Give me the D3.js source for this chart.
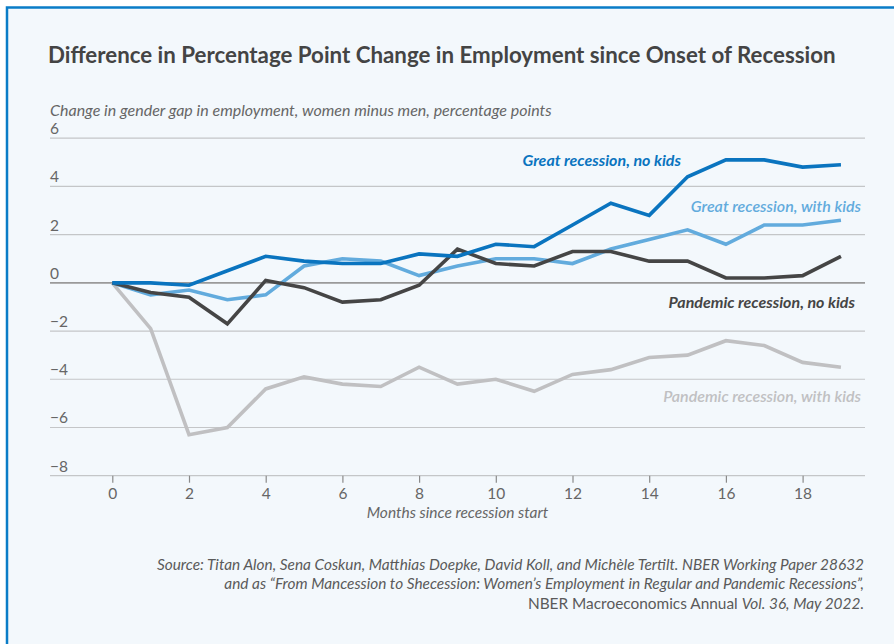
<!DOCTYPE html>
<html>
<head>
<meta charset="utf-8">
<script src="https://cdn.jsdelivr.net/npm/d3@7"></script>
<style>
  html, body { margin: 0; padding: 0; background: #ffffff; }
  svg { display: block; }
</style>
</head>
<body>
<svg id="chart" width="894" height="644"></svg>
<script>
const months = d3.range(0, 20);
const greatNoKids   = [0, 0, -0.1, 0.5, 1.1, 0.9, 0.8, 0.8, 1.2, 1.1, 1.6, 1.5, 2.4, 3.3, 2.8, 4.4, 5.1, 5.1, 4.8, 4.9];
const greatKids     = [0, -0.5, -0.3, -0.7, -0.5, 0.7, 1.0, 0.9, 0.3, 0.7, 1.0, 1.0, 0.8, 1.4, 1.8, 2.2, 1.6, 2.4, 2.4, 2.6];
const pandNoKids    = [0, -0.4, -0.6, -1.7, 0.1, -0.2, -0.8, -0.7, -0.1, 1.4, 0.8, 0.7, 1.3, 1.3, 0.9, 0.9, 0.2, 0.2, 0.3, 1.1];
const pandKids      = [0, -1.9, -6.3, -6.0, -4.4, -3.9, -4.2, -4.3, -3.5, -4.2, -4.0, -4.5, -3.8, -3.6, -3.1, -3.0, -2.4, -2.6, -3.3, -3.5];
const yTicks = [6, 4, 2, 0, -2, -4, -6, -8];
const xTicks = [0, 2, 4, 6, 8, 10, 12, 14, 16, 18];

const title = "Difference in Percentage Point Change in Employment since Onset of Recession";
const yTitle = "Change in gender gap in employment, women minus men, percentage points";
const xTitle = "Months since recession start";

const series = [
  { name: "Pandemic recession, with kids", values: pandKids,    color: "#c0c0c2", weight: 600, lx: 861, ly: 396 },
  { name: "Great recession, with kids",    values: greatKids,   color: "#62abdd", weight: 600, lx: 861, ly: 206 },
  { name: "Pandemic recession, no kids",   values: pandNoKids,  color: "#454545", weight: 700, lx: 855, ly: 302 },
  { name: "Great recession, no kids",      values: greatNoKids, color: "#0a74bf", weight: 700, lx: 681, ly: 160 }
];

const font = "'Lato', 'Open Sans', sans-serif";
const svg = d3.select("#chart");

// Frame
svg.append("rect").attr("x", 0).attr("y", 0).attr("width", 894).attr("height", 644).attr("fill", "#ffffff");
svg.append("rect").attr("x", 7).attr("y", 7.5).attr("width", 900).attr("height", 660)
  .attr("fill", "#f3f8fc").attr("stroke", "#0a7cc7").attr("stroke-width", 2.5);

const x = d3.scaleLinear().domain([0, 18]).range([112.3, 802.6]);
const y = d3.scaleLinear().domain([-8, 6]).range([475.7, 138.2]);
const gridX0 = 50, gridX1 = 865;

// Title
svg.append("text").attr("x", 48).attr("y", 63)
  .attr("font-family", font).attr("font-weight", 700).attr("font-size", 22.3)
  .attr("fill", "#444444").text(title);

svg.append("text").attr("x", 50).attr("y", 116)
  .attr("font-family", font).attr("font-style", "italic").attr("font-size", 16)
  .attr("fill", "#666666").text(yTitle);

// Grid
const grid = svg.append("g");
grid.selectAll("line").data(yTicks).join("line")
  .attr("x1", gridX0).attr("x2", gridX1)
  .attr("y1", d => y(d)).attr("y2", d => y(d))
  .attr("stroke", d => d === 0 ? "#9a9a9a" : "#c4c6c8")
  .attr("stroke-width", d => d === 0 ? 1.6 : 1.2);
grid.selectAll("text").data(yTicks).join("text")
  .attr("x", gridX0).attr("y", d => y(d) - 4)
  .attr("font-family", font).attr("font-size", 15.5).attr("fill", "#666666")
  .text(d => d < 0 ? "\u2212" + Math.abs(d) : d);

// X axis
const xAxis = d3.axisBottom(x).tickValues(xTicks).tickSize(7).tickPadding(5);
const gx = svg.append("g").attr("transform", `translate(0,${y(-8)})`).call(xAxis);
gx.select(".domain").remove();
gx.selectAll(".tick line").attr("stroke", "#8a8a8a").attr("stroke-width", 1.2);
gx.selectAll(".tick text").attr("font-family", font).attr("font-size", 15.5).attr("fill", "#666666");

svg.append("text").attr("x", (gridX0 + gridX1) / 2).attr("y", 518)
  .attr("text-anchor", "middle")
  .attr("font-family", font).attr("font-style", "italic").attr("font-size", 15.5)
  .attr("fill", "#666666").text(xTitle);

// Lines
const line = d3.line().x((d, i) => x(months[i])).y(d => y(d));
svg.append("g").selectAll("path").data(series).join("path")
  .attr("d", d => line(d.values))
  .attr("fill", "none").attr("stroke", d => d.color)
  .attr("stroke-width", 3.6).attr("stroke-linejoin", "miter").attr("stroke-linecap", "butt");

// Labels
svg.append("g").selectAll("text").data(series).join("text")
  .attr("x", d => d.lx).attr("y", d => d.ly + 5.5)
  .attr("text-anchor", "end")
  .attr("font-family", font).attr("font-style", "italic").attr("font-weight", d => d.weight)
  .attr("font-size", 16).attr("fill", d => d.color).text(d => d.name);

// Source
const src = svg.append("g").attr("font-family", font).attr("font-size", 15.4).attr("fill", "#5a5a5a").attr("text-anchor", "end");
src.append("text").attr("x", 864).attr("y", 569.5).attr("font-style", "italic")
  .text("Source: Titan Alon, Sena Coskun, Matthias Doepke, David Koll, and Michèle Tertilt. NBER Working Paper 28632");
src.append("text").attr("x", 864).attr("y", 589).attr("font-style", "italic")
  .text("and as \u201CFrom Mancession to Shecession: Women\u2019s Employment in Regular and Pandemic Recessions\u201D,");
const l3 = src.append("text").attr("x", 864).attr("y", 608.5);
l3.append("tspan").text("NBER Macroeconomics Annual ");
l3.append("tspan").attr("font-style", "italic").text("Vol. 36, May 2022.");
</script>
</body>
</html>
